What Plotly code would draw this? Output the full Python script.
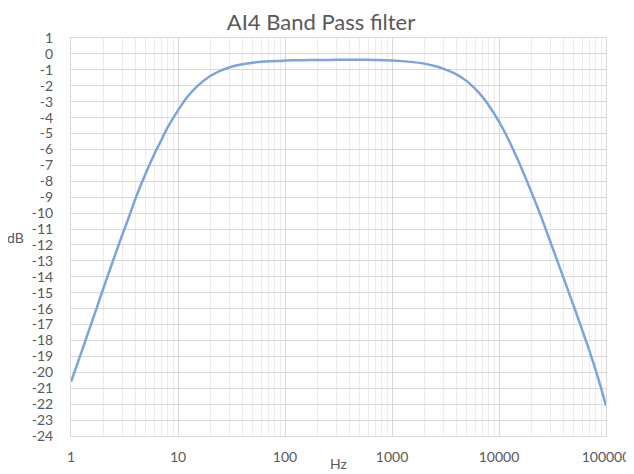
import plotly.graph_objects as go

# Data
freq_hz = [1, 1.25, 1.5, 1.75, 2, 2.5, 3, 3.5, 4, 5, 6, 7, 8, 10, 12, 15, 20, 25, 30,
           40, 50, 70, 100, 150, 200, 300, 500, 700, 1000, 1500, 2000, 2500, 3000,
           4000, 5000, 6000, 7000, 8000, 10000, 12000, 15000, 20000, 25000, 30000,
           40000, 50000, 60000, 70000, 80000, 90000, 100000]
gain_db = [-20.6, -18.75, -17.2, -15.9, -14.75, -12.9, -11.4, -10.2, -9.1, -7.5, -6.3,
           -5.4, -4.62, -3.55, -2.77, -2.05, -1.39, -1.05, -0.85, -0.65, -0.55, -0.46,
           -0.42, -0.39, -0.38, -0.37, -0.37, -0.38, -0.41, -0.5, -0.61, -0.76, -0.92,
           -1.28, -1.71, -2.2, -2.7, -3.22, -4.25, -5.25, -6.65, -8.65, -10.3, -11.75,
           -14.05, -15.85, -17.35, -18.65, -19.85, -21.0, -22.1]

x_tick_vals = [1, 10, 100, 1000, 10000, 100000]
x_tick_text = ["1", "10", "100", "1000", "10000", "100000"]
y_tick_vals = list(range(-24, 2))
y_tick_text = [str(v) for v in y_tick_vals]

title_text = "AI4 Band Pass filter"
x_title = "Hz"
y_title = "dB"

font_family = "Lato, Open Sans, sans-serif"
text_color = "#595959"
grid_major = "#d9d9d9"
grid_minor = "#ebebeb"

fig = go.Figure()
fig.add_trace(go.Scatter(
    x=freq_hz, y=gain_db, mode="lines",
    line=dict(color="#7ba5dc", width=2.5, shape="spline", smoothing=0.6),
    showlegend=False, hoverinfo="x+y",
))

# The page body adds an 8px offset; margins compensate for it.
fig.update_layout(
    width=634, height=474,
    margin=dict(l=63, r=36, t=30, b=46),
    paper_bgcolor="white", plot_bgcolor="white",
    font=dict(family=font_family, size=14, color=text_color),
    title=dict(text=title_text, x=313 / 634, xanchor="center",
               y=1 - 14 / 474, yanchor="middle",
               font=dict(size=22, color=text_color, family=font_family)),
    showlegend=False,
)

fig.update_xaxes(
    type="log", range=[0, 5],
    tickvals=x_tick_vals, ticktext=x_tick_text,
    showgrid=True, gridcolor=grid_major, gridwidth=1,
    minor=dict(dtick="D1", showgrid=True, gridcolor=grid_minor, gridwidth=1, ticks=""),
    showline=True, linecolor=grid_major, mirror=True,
    ticks="", zeroline=False, ticklabelstandoff=8,
    tickfont=dict(size=14, color=text_color),
)
fig.update_yaxes(
    range=[-24, 1],
    tickvals=y_tick_vals, ticktext=y_tick_text,
    showgrid=True, gridcolor=grid_major, gridwidth=1,
    showline=True, linecolor=grid_major, mirror=True,
    ticks="", zeroline=False, ticklabelstandoff=14,
    tickfont=dict(size=14, color=text_color),
)

fig.add_annotation(text=y_title, xref="paper", yref="paper", x=-0.103, y=0.4975,
                   xanchor="center", yanchor="middle", showarrow=False,
                   font=dict(size=14, color=text_color))
fig.add_annotation(text=x_title, xref="paper", yref="paper", x=0.5, y=-0.068,
                   xanchor="center", yanchor="middle", showarrow=False,
                   font=dict(size=14, color=text_color))

fig.write_html("out.html")
